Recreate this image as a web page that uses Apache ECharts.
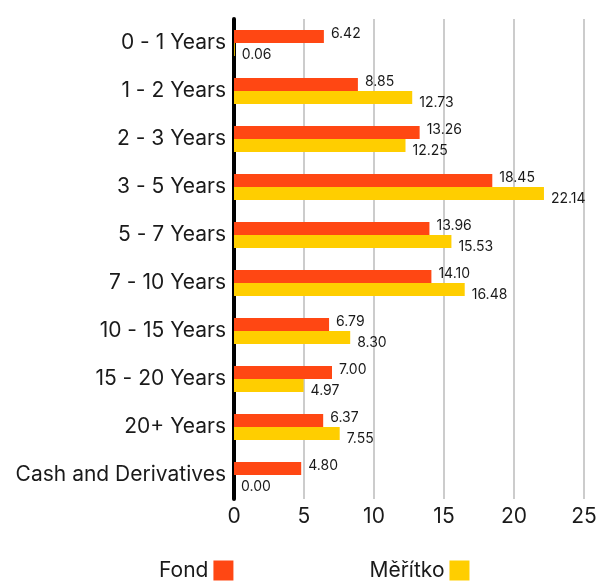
<!DOCTYPE html>
<html>
<head>
<meta charset="utf-8">
<script src="https://cdn.jsdelivr.net/npm/echarts@6/dist/echarts.min.js"></script>
<style>
  html, body { margin: 0; padding: 0; background: #fff; }
  #chart { width: 608px; height: 581px; }
</style>
</head>
<body>
<div id="chart"></div>
<script>
// 数据
var categories = ['0 - 1 Years', '1 - 2 Years', '2 - 3 Years', '3 - 5 Years', '5 - 7 Years',
    '7 - 10 Years', '10 - 15 Years', '15 - 20 Years', '20+ Years', 'Cash and Derivatives'];
var fondValues = [6.42, 8.85, 13.26, 18.45, 13.96, 14.10, 6.79, 7.00, 6.37, 4.80];
var meritkoValues = [0.06, 12.73, 12.25, 22.14, 15.53, 16.48, 8.30, 4.97, 7.55, 0.00];
var seriesNames = ['Fond', 'Měřítko'];

document.addEventListener('DOMContentLoaded', function () {
    var myChart = echarts.init(document.getElementById('chart'));
    var font = 'Inter, "Noto Sans", sans-serif';

    var option = {
        animation: false,
        backgroundColor: '#fff',
        textStyle: { fontFamily: font },
        grid: {
            left: 234,
            right: 24,
            top: 19,
            bottom: 82
        },
        legend: {
            data: seriesNames,
            top: 555,
            left: 154,
            align: 'right',
            icon: 'rect',
            itemWidth: 20,
            itemHeight: 20,
            itemGap: 136,
            textStyle: { color: '#1a1a1a', fontSize: 21, fontFamily: font }
        },
        xAxis: {
            type: 'value',
            min: 0,
            max: 25,
            interval: 5,
            axisLine: { show: false },
            axisTick: { show: false },
            axisLabel: { color: '#1a1a1a', fontSize: 21, margin: 7, fontFamily: font },
            splitLine: { lineStyle: { color: '#cccccc', width: 2 } }
        },
        yAxis: {
            type: 'category',
            data: categories,
            inverse: true,
            axisLine: { lineStyle: { color: '#000', width: 4 } },
            axisTick: { show: false },
            axisLabel: { color: '#1a1a1a', fontSize: 21, margin: 8, fontFamily: font }
        },
        series: [
            {
                name: seriesNames[0],
                type: 'bar',
                data: fondValues,
                barGap: '0%',
                barCategoryGap: '46%',
                itemStyle: { color: '#FF4713' },
                label: {
                    show: true,
                    position: 'right',
                    distance: 7,
                    offset: [0, -3],
                    color: '#1a1a1a',
                    fontSize: 14,
                    fontFamily: font,
                    formatter: function (p) { return p.value.toFixed(2); }
                }
            },
            {
                name: seriesNames[1],
                type: 'bar',
                data: meritkoValues,
                itemStyle: { color: '#FFCE00' },
                label: {
                    show: true,
                    position: 'right',
                    distance: 7,
                    offset: [0, 5],
                    color: '#1a1a1a',
                    fontSize: 14,
                    fontFamily: font,
                    formatter: function (p) { return p.value.toFixed(2); }
                }
            }
        ]
    };

    myChart.setOption(option);
});
</script>
</body>
</html>
